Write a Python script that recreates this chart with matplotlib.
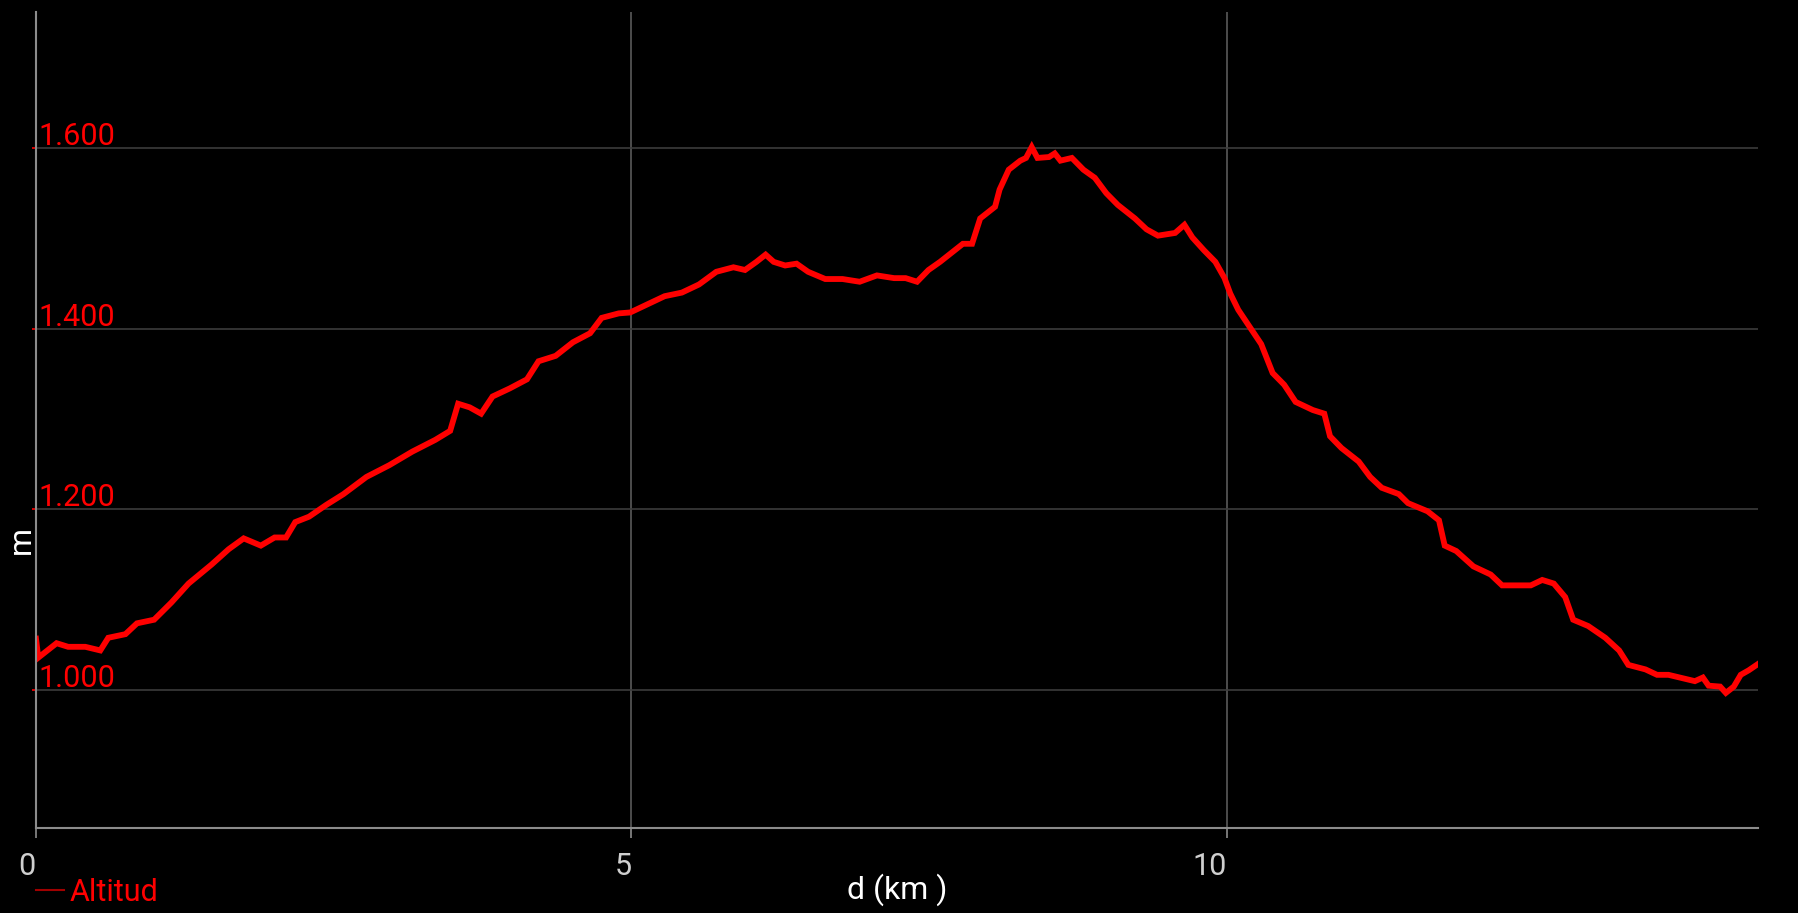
import matplotlib
matplotlib.use("Agg")
import matplotlib.pyplot as plt
from matplotlib.lines import Line2D
from matplotlib.ticker import FuncFormatter
from matplotlib.transforms import ScaledTranslation

# elevation profile
dist_km = [0.0, 0.019, 0.173, 0.27, 0.414, 0.54, 0.607, 0.751, 0.848, 0.992,
           1.137, 1.281, 1.474, 1.618, 1.744, 1.888, 2.004, 2.10, 2.177, 2.293,
           2.437, 2.582, 2.775, 2.967, 3.16, 3.353, 3.478, 3.545, 3.642, 3.738,
           3.834, 3.979, 4.123, 4.22, 4.364, 4.509, 4.653, 4.75, 4.894, 4.99,
           5.135, 5.279, 5.424, 5.568, 5.713, 5.857, 5.954, 6.05, 6.127, 6.195,
           6.291, 6.387, 6.484, 6.628, 6.773, 6.917, 7.062, 7.206, 7.303, 7.399,
           7.495, 7.592, 7.688, 7.784, 7.861, 7.929, 7.996, 8.054, 8.092, 8.169,
           8.266, 8.314, 8.362, 8.41, 8.507, 8.555, 8.603, 8.699, 8.796, 8.892,
           8.988, 9.085, 9.229, 9.326, 9.422, 9.566, 9.644, 9.711, 9.807, 9.904,
           9.981, 10.029, 10.096, 10.193, 10.289, 10.385, 10.482, 10.578, 10.723, 10.819,
           10.867, 10.963, 11.108, 11.204, 11.301, 11.445, 11.522, 11.686, 11.782, 11.830,
           11.927, 12.071, 12.216, 12.312, 12.457, 12.553, 12.649, 12.746, 12.842, 12.909,
           13.035, 13.179, 13.295, 13.372, 13.516, 13.613, 13.709, 13.805, 13.931, 13.998,
           14.046, 14.143, 14.191, 14.258, 14.316, 14.383, 14.461]
altitude_m = [1057, 1036, 1052, 1048, 1048, 1044, 1058, 1062, 1074, 1078,
              1097, 1118, 1139, 1156, 1168, 1160, 1169, 1169, 1186, 1192,
              1205, 1217, 1236, 1249, 1264, 1277, 1287, 1317, 1313, 1306,
              1325, 1334, 1344, 1364, 1370, 1385, 1395, 1412, 1417, 1418,
              1427, 1436, 1440, 1449, 1463, 1468, 1465, 1474, 1482, 1474,
              1470, 1472, 1463, 1455, 1455, 1452, 1459, 1456, 1456, 1452,
              1465, 1474, 1484, 1494, 1494, 1522, 1529, 1535, 1554, 1576,
              1586, 1589, 1601, 1589, 1590, 1594, 1586, 1589, 1576, 1567,
              1550, 1537, 1522, 1510, 1503, 1506, 1515, 1501, 1487, 1474,
              1456, 1439, 1421, 1402, 1383, 1351, 1338, 1319, 1310, 1306,
              1281, 1268, 1253, 1236, 1224, 1217, 1207, 1198, 1188, 1160,
              1154, 1137, 1128, 1116, 1116, 1116, 1122, 1118, 1103, 1078,
              1071, 1058, 1044, 1028, 1023, 1017, 1017, 1014, 1010, 1014,
              1005, 1004, 997, 1004, 1017, 1022, 1029]
x_ticks = [0, 5, 10]
y_ticks = [1000, 1200, 1400, 1600]

plt.rcParams['font.family'] = ['Roboto', 'DejaVu Sans']

W, H = 1798, 913
fig = plt.figure(figsize=(W / 100, H / 100), dpi=100, facecolor='black')
ax = fig.add_axes([36 / W, 1 - 828 / H, (1758 - 36) / W, (828 - 12) / H])
ax.set_facecolor('black')

ax.plot(dist_km, altitude_m, color='#ff0000', lw=4.2, solid_joinstyle='miter')

ax.set_xlim(0, 14.461)
ax.set_ylim(847.5, 1750.5)

for side in ('top', 'right'):
    ax.spines[side].set_visible(False)
for side in ('left', 'bottom'):
    ax.spines[side].set_color('#8c8c8c')
    ax.spines[side].set_linewidth(1.5)

ax.set_xticks(x_ticks)
ax.set_yticks(y_ticks)
ax.yaxis.set_major_formatter(FuncFormatter(lambda v, p: f"{v:,.0f}".replace(",", ".")))

ax.tick_params(axis='x', colors='#8c8c8c', labelcolor='#cfcfcf', length=7,
               width=1.2, labelsize=22, pad=10)
ax.tick_params(axis='y', colors='#ff0000', labelcolor='#ff0000', length=3,
               width=1.2, labelsize=22, pad=-5)
for lab in ax.get_xticklabels():
    lab.set_ha('right')
lift = ScaledTranslation(0, 3 / 100, fig.dpi_scale_trans)
for lab in ax.get_yticklabels():
    lab.set_ha('left')
    lab.set_va('baseline')
    lab.set_transform(lab.get_transform() + lift)

ax.xaxis.grid(True, color='#5a5a5a', lw=1.2)
ax.yaxis.grid(True, color='#3c3c3c', lw=1.2)
ax.set_axisbelow(True)

fig.text(897 / W, 1 - 890 / H, 'd (km )', color='white', fontsize=23,
         ha='center', va='center')
fig.text(21 / W, 1 - 540 / H, 'm', color='white', fontsize=23,
         ha='center', va='center', rotation=90)

handle = Line2D([], [], color='#a00000', lw=1.5)
fig.legend([handle], ['Altitud'], loc='center left',
           bbox_to_anchor=(36 / W, 1 - 892 / H), frameon=False, fontsize=22,
           labelcolor='#ff0000', handlelength=0.9, handletextpad=0.2,
           borderpad=0, borderaxespad=0)

fig.savefig('out.png', dpi=100, facecolor='black')
